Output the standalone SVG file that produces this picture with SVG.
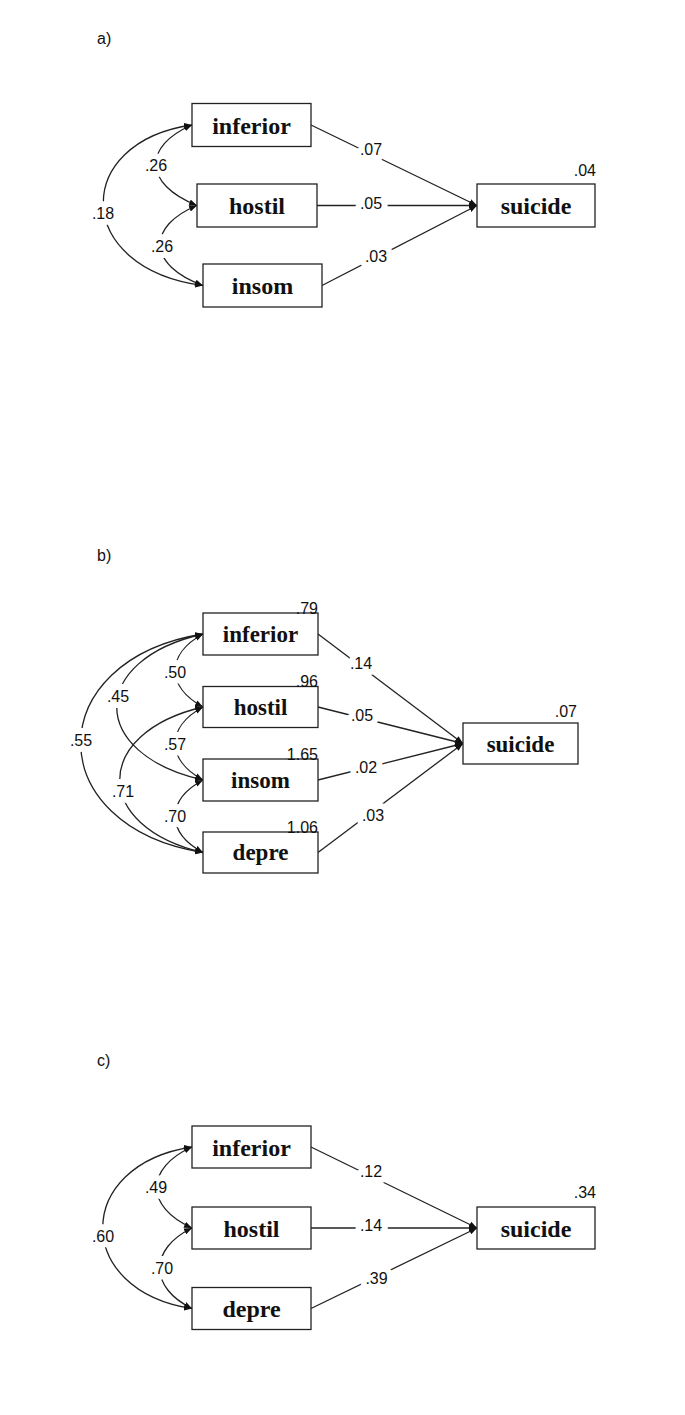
<svg xmlns="http://www.w3.org/2000/svg" width="685" height="1415" viewBox="0 0 685 1415">
<style>
.box{fill:#fff;stroke:#222;stroke-width:1.3}
.nl{font-family:"Liberation Serif","Times New Roman",serif;font-weight:bold;font-size:24px;fill:#111;text-anchor:middle}
.nlb{font-size:23px}
.num{font-family:"Liberation Sans",Arial,sans-serif;font-size:16px;fill:#111}
.lab{font-family:"Liberation Sans",Arial,sans-serif;font-size:16px;fill:#111;text-anchor:middle;stroke:#fff;stroke-width:12;paint-order:stroke;stroke-linejoin:round}
.ttl{font-family:"Liberation Sans",Arial,sans-serif;font-size:16px;fill:#111}
.ln{fill:none;stroke:#222;stroke-width:1.3;marker-end:url(#ah)}
.cv{fill:none;stroke:#222;stroke-width:1.3;marker-start:url(#ahs);marker-end:url(#ah)}
</style>
<defs>
<marker id="ah" viewBox="0 0 10 8" refX="10" refY="4" markerWidth="8" markerHeight="6.4" markerUnits="userSpaceOnUse" orient="auto"><path d="M0,0 L10,4 L0,8 z" fill="#111"/></marker>
<marker id="ahs" viewBox="0 0 10 8" refX="10" refY="4" markerWidth="8" markerHeight="6.4" markerUnits="userSpaceOnUse" orient="auto-start-reverse"><path d="M0,0 L10,4 L0,8 z" fill="#111"/></marker>
</defs>
<rect width="685" height="1415" fill="#fff"/>

<!-- Panel titles -->
<text class="ttl" x="97" y="44">a)</text>
<text class="ttl" x="97" y="561">b)</text>
<text class="ttl" x="97" y="1066">c)</text>

<!-- Connectors -->
<g id="connectors">
  <!-- panel a -->
  <path class="ln" d="M311,125 L477,205.5"/>
  <path class="ln" d="M317,205.5 L477,205.5"/>
  <path class="ln" d="M322,285.5 L477,205.5"/>
  <path class="cv" d="M192,125 C143,146 143,184 197,205.5"/>
  <path class="cv" d="M197,205.5 C147,226 147,265 203,285.5"/>
  <path class="cv" d="M192,125 C72,142 72,268 203,285.5"/>
  <!-- panel b -->
  <path class="ln" d="M318,634 L463,743.5"/>
  <path class="ln" d="M318,707 L463,743.5"/>
  <path class="ln" d="M318,780 L463,743.5"/>
  <path class="ln" d="M318,852.5 L463,743.5"/>
  <path class="cv" d="M203,634 C166,654 166,687 203,707"/>
  <path class="cv" d="M203,707 C166,727 166,760 203,780"/>
  <path class="cv" d="M203,780 C166,800 166,832.5 203,852.5"/>
  <path class="cv" d="M203,634 C88,660 88,754 203,780"/>
  <path class="cv" d="M203,707 C92,733 92,826.5 203,852.5"/>
  <path class="cv" d="M203,634 C40,660 40,826.5 203,852.5"/>
  <!-- panel c -->
  <path class="ln" d="M311,1147 L477,1228"/>
  <path class="ln" d="M311,1228 L477,1228"/>
  <path class="ln" d="M311,1308.5 L477,1228"/>
  <path class="cv" d="M192,1147 C145,1168 145,1207 192,1228"/>
  <path class="cv" d="M192,1228 C149,1249 149,1287.5 192,1308.5"/>
  <path class="cv" d="M192,1147 C73,1165 73,1290.5 192,1308.5"/>
</g>

<!-- Connector labels -->
<g id="labels">
  <text class="lab" x="371" y="155">.07</text>
  <text class="lab" x="371" y="209">.05</text>
  <text class="lab" x="376" y="262">.03</text>
  <text class="lab" x="156" y="171">.26</text>
  <text class="lab" x="162" y="251.5">.26</text>
  <text class="lab" x="103" y="219">.18</text>

  <text class="lab" x="361" y="669">.14</text>
  <text class="lab" x="362" y="720.5">.05</text>
  <text class="lab" x="366" y="772.5">.02</text>
  <text class="lab" x="373" y="821">.03</text>
  <text class="lab" x="175" y="678">.50</text>
  <text class="lab" x="118" y="702">.45</text>
  <text class="lab" x="81" y="745.5">.55</text>
  <text class="lab" x="175" y="750">.57</text>
  <text class="lab" x="123" y="796.5">.71</text>
  <text class="lab" x="175" y="821.5">.70</text>

  <text class="lab" x="371" y="1177">.12</text>
  <text class="lab" x="371" y="1231">.14</text>
  <text class="lab" x="376.5" y="1284">.39</text>
  <text class="lab" x="156" y="1193">.49</text>
  <text class="lab" x="103" y="1242">.60</text>
  <text class="lab" x="162" y="1274">.70</text>
</g>

<!-- Panel a nodes -->
<g id="a_inferior"><rect class="box" x="192" y="103.5" width="119" height="43"/><text class="nl" x="251.5" y="133.5">inferior</text></g>
<g id="a_hostil"><rect class="box" x="197" y="184" width="120" height="43"/><text class="nl" x="257" y="214">hostil</text></g>
<g id="a_insom"><rect class="box" x="203" y="264" width="119" height="43"/><text class="nl" x="262.5" y="294">insom</text></g>
<g id="a_suicide"><rect class="box" x="477" y="184" width="118" height="43"/><text class="nl" x="536" y="214">suicide</text><text class="num" x="596" y="176" text-anchor="end">.04</text></g>

<!-- Panel b nodes -->
<g id="b_inferior"><rect class="box" x="203" y="613" width="115" height="42"/><text class="nl nlb" x="260.5" y="642">inferior</text><text class="num" x="318" y="614" text-anchor="end">.79</text></g>
<g id="b_hostil"><rect class="box" x="203" y="686.5" width="115" height="41"/><text class="nl nlb" x="260.5" y="715">hostil</text><text class="num" x="318" y="687" text-anchor="end">.96</text></g>
<g id="b_insom"><rect class="box" x="203" y="759" width="115" height="42"/><text class="nl nlb" x="260.5" y="788">insom</text><text class="num" x="318" y="759.5" text-anchor="end">1.65</text></g>
<g id="b_depre"><rect class="box" x="203" y="832" width="115" height="41"/><text class="nl nlb" x="260.5" y="860">depre</text><text class="num" x="318" y="832.5" text-anchor="end">1.06</text></g>
<g id="b_suicide"><rect class="box" x="463" y="723" width="115" height="41"/><text class="nl nlb" x="520.5" y="751.5">suicide</text><text class="num" x="577" y="717" text-anchor="end">.07</text></g>

<!-- Panel c nodes -->
<g id="c_inferior"><rect class="box" x="192" y="1126" width="119" height="42"/><text class="nl" x="251.5" y="1155.5">inferior</text></g>
<g id="c_hostil"><rect class="box" x="192" y="1207" width="119" height="42"/><text class="nl" x="251.5" y="1236.5">hostil</text></g>
<g id="c_depre"><rect class="box" x="192" y="1287.5" width="119" height="42"/><text class="nl" x="251.5" y="1316.5">depre</text></g>
<g id="c_suicide"><rect class="box" x="477" y="1207" width="118" height="42"/><text class="nl" x="536" y="1236.5">suicide</text><text class="num" x="596" y="1198" text-anchor="end">.34</text></g>
</svg>
